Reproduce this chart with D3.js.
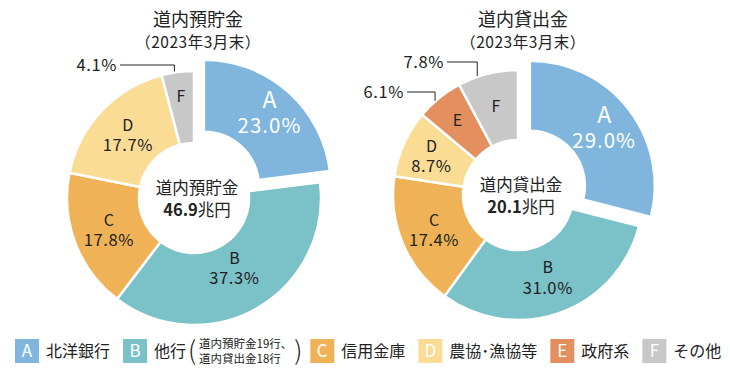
<!DOCTYPE html>
<html>
<head>
<meta charset="utf-8">
<script src="https://cdn.jsdelivr.net/npm/d3@7"></script>
<style>
  body { margin: 0; background: #fff; }
  text { font-family: "Noto Sans CJK JP", "Noto Sans", sans-serif; fill: #222; }
</style>
</head>
<body>
<svg width="730" height="370"></svg>
<script>
const categories = ["A", "B", "C", "D", "E", "F"];
const categoryNames = ["北洋銀行", "他行", "信用金庫", "農協･漁協等", "政府系", "その他"];
const otherBankNote = ["道内預貯金19行、", "道内貸出金18行"];

const depositShares = [23.0, 37.3, 17.8, 17.7, null, 4.1];
const loanShares = [29.0, 31.0, 17.4, 8.7, 6.1, 7.8];

const chartTitles = ["道内預貯金", "道内貸出金"];
const subTitle = "（2023年3月末）";
const totals = ["46.9", "20.1"];
const totalUnit = "兆円";

const color = d3.scaleOrdinal()
  .domain(categories)
  .range(["#80b6dd", "#7bc1c8", "#efb257", "#fbdc95", "#e3905e", "#c8c8c8"]);

const svg = d3.select("svg");
const explode = 15;
const innerR = 55;

function drawDonut(opt) {
  const g = svg.append("g").attr("transform", `translate(${opt.cx},${opt.cy})`);

  const data = categories
    .map((c, i) => ({cat: c, value: opt.shares[i]}))
    .filter(d => d.value != null);

  const arcs = d3.pie().value(d => d.value).sort(null)(data);
  const path = d3.arc().innerRadius(innerR).outerRadius(opt.outer);

  const shift = d => {
    if (d.data.cat !== "A") return [0, 0];
    const m = (d.startAngle + d.endAngle) / 2;
    return [Math.sin(m) * explode, -Math.cos(m) * explode];
  };

  const slice = g.selectAll(".slice")
    .data(arcs)
    .enter()
    .append("g")
    .classed("slice", true)
    .attr("transform", d => `translate(${shift(d)})`);

  slice.append("path")
    .attr("d", path)
    .attr("fill", d => color(d.data.cat))
    .attr("stroke", "#fff")
    .attr("stroke-width", 2.5);

  // labels: letter and percent as separate texts
  slice.each(function(d) {
    const s = d3.select(this);
    const r = opt.labelR[d.data.cat] || 91;
    const [x, y] = d3.arc().innerRadius(r).outerRadius(r).centroid(d);
    const big = d.data.cat === "A";
    const small = d.data.value < 8;
    const fill = big ? "#fff" : "#222";
    s.append("text")
      .attr("x", x)
      .attr("y", y + (small ? 0 : (big ? -13 : -10)))
      .attr("dy", "0.35em")
      .attr("text-anchor", "middle")
      .attr("font-size", big ? 23 : 16)
      .style("fill", fill)
      .text(d.data.cat);
    if (!small) {
      s.append("text")
        .attr("x", x)
        .attr("y", y + (big ? 13 : 10))
        .attr("dy", "0.35em")
        .attr("text-anchor", "middle")
        .attr("font-size", big ? 20.5 : 16.5)
        .attr("letter-spacing", big ? 1 : 0.6)
        .style("fill", fill)
        .text(`${d.data.value.toFixed(1)}%`);
    }
  });

  // callouts for small slices
  arcs.filter(d => d.data.value < 8).forEach(d => {
    const c = opt.callouts[d.data.cat];
    const a = (d.startAngle + d.endAngle) / 2 - c.da * Math.PI / 180;
    const ex = Math.sin(a) * opt.outer;
    const ey = -Math.cos(a) * (opt.outer + 1);
    const ly = c.y - opt.cy;
    const tx = c.x - opt.cx;
    g.append("path")
      .attr("d", d3.line()([[tx, ly], [ex, ly], [ex, ey]]))
      .attr("fill", "none")
      .attr("stroke", "#222")
      .attr("stroke-width", 1);
    g.append("text")
      .attr("x", tx - 3)
      .attr("y", ly)
      .attr("dy", "0.35em")
      .attr("text-anchor", "end")
      .attr("font-size", 16.5)
      .attr("letter-spacing", 0.6)
      .text(`${d.data.value.toFixed(1)}%`);
  });

  // centre
  g.append("text")
    .attr("x", 3).attr("y", -4)
    .attr("text-anchor", "middle")
    .attr("font-size", 16.5)
    .text(opt.title);
  const tot = g.append("text")
    .attr("x", 3).attr("y", 18)
    .attr("text-anchor", "middle")
    .attr("font-size", 16.5);
  tot.append("tspan").attr("font-weight", "bold").text(opt.total);
  tot.append("tspan").text(totalUnit);

  // titles
  svg.append("text")
    .attr("x", opt.tx).attr("y", 26)
    .attr("text-anchor", "middle")
    .attr("font-size", 18)
    .text(opt.title);
  svg.append("text")
    .attr("x", opt.tx).attr("y", 48)
    .attr("text-anchor", "middle")
    .attr("font-size", 15.5)
    .attr("letter-spacing", 0.5)
    .text(subTitle);
}

drawDonut({
  cx: 194, cy: 198, outer: 127, tx: 198,
  shares: depositShares, title: chartTitles[0], total: totals[0],
  labelR: {A: 99, B: 81, F: 102},
  callouts: {F: {x: 120, y: 65, da: 1.5}}
});

drawDonut({
  cx: 518, cy: 195, outer: 125, tx: 523,
  shares: loanShares, title: chartTitles[1], total: totals[1],
  labelR: {A: 94, B: 88, D: 95, E: 96},
  callouts: {F: {x: 447, y: 62, da: 5}, E: {x: 407, y: 92, da: 2.5}}
});

// legend
const legend = svg.append("g").attr("transform", "translate(15,339)");
let lx = 0;
categories.forEach((c, i) => {
  const item = legend.append("g").attr("transform", `translate(${lx},0)`);
  item.append("rect")
    .attr("width", 24).attr("height", 24)
    .attr("fill", color(c));
  item.append("text")
    .attr("x", 12).attr("y", 12).attr("dy", "0.36em")
    .attr("text-anchor", "middle")
    .attr("font-size", 17)
    .style("fill", "#fff")
    .text(c);
  const name = item.append("text")
    .attr("x", 31).attr("y", 18)
    .attr("font-size", 16)
    .text(categoryNames[i]);
  let w = 31 + name.node().getComputedTextLength();
  if (c === "B") {
    item.append("text")
      .attr("x", w + 2).attr("y", 21)
      .attr("font-size", 26).attr("font-weight", 300)
      .text("(");
    const note = item.append("g");
    otherBankNote.forEach((s, j) => {
      note.append("text")
        .attr("font-size", 11.5)
        .attr("x", w + 13).attr("y", 9 + j * 14.5)
        .text(s);
    });
    const nw = d3.max(note.selectAll("text").nodes(), n => n.getComputedTextLength());
    item.append("text")
      .attr("x", w + 13 + nw + 2).attr("y", 21)
      .attr("font-size", 26).attr("font-weight", 300)
      .text(")");
    w = w + 13 + nw + 12;
    lx += w + 6;
  } else {
    lx += w + 13;
  }
});
</script>
</body>
</html>
